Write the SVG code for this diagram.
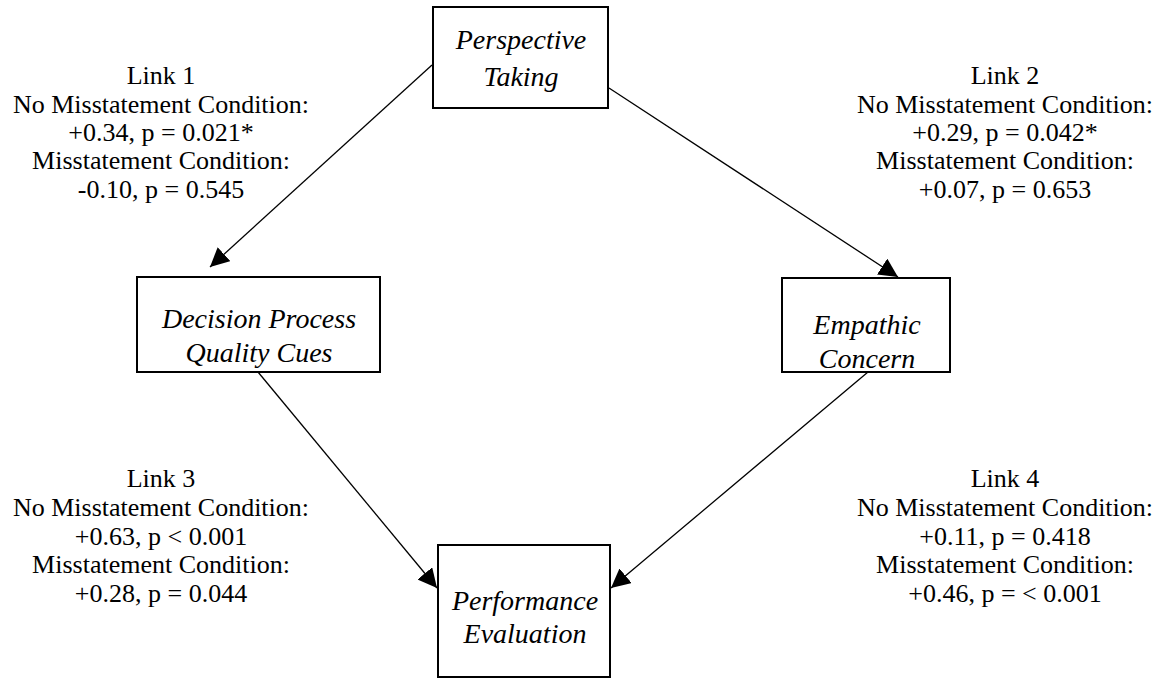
<svg xmlns="http://www.w3.org/2000/svg" width="1167" height="679" viewBox="0 0 1167 679">
<style>
.box{fill:#fff;stroke:#000;stroke-width:2}
.nt{font-family:'Liberation Serif','Times New Roman',serif;font-style:italic;font-size:28px;fill:#000;text-anchor:middle}
.lt{font-family:'Liberation Serif','Times New Roman',serif;font-size:26px;fill:#000;text-anchor:middle}
.ln{stroke:#000;stroke-width:1.3;fill:none;marker-end:url(#ah)}
</style>
<defs>
<marker id="ah" viewBox="0 0 10 10" refX="10" refY="5" markerWidth="19" markerHeight="19" markerUnits="userSpaceOnUse" orient="auto">
<path d="M0,0 L10,5 L0,10 z" fill="#000"/>
</marker>
</defs>
<rect width="1167" height="679" fill="#fff"/>
<g id="connectors">
<line class="ln" x1="432" y1="65" x2="210" y2="267"/>
<line class="ln" x1="609" y1="88" x2="898" y2="277"/>
<line class="ln" x1="258" y1="372" x2="437" y2="588"/>
<line class="ln" x1="868" y1="372" x2="611" y2="588"/>
</g>
<g id="node-perspective">
<rect class="box" x="433" y="7" width="175" height="101"/>
<text class="nt" x="521" y="49">Perspective</text>
<text class="nt" x="521" y="86">Taking</text>
</g>
<g id="node-decision">
<rect class="box" x="137" y="277" width="243" height="95"/>
<text class="nt" x="259" y="328">Decision Process</text>
<text class="nt" x="259" y="362">Quality Cues</text>
</g>
<g id="node-empathic">
<rect class="box" x="782" y="278" width="168" height="94"/>
<text class="nt" x="867" y="334">Empathic</text>
<text class="nt" x="867" y="368">Concern</text>
</g>
<g id="node-performance">
<rect class="box" x="438" y="545" width="172" height="132"/>
<text class="nt" x="525" y="610">Performance</text>
<text class="nt" x="525" y="643">Evaluation</text>
</g>
<g id="label-link1">
<text class="lt" x="161" y="84">Link 1</text>
<text class="lt" x="161" y="113">No Misstatement Condition:</text>
<text class="lt" x="161" y="141">+0.34, p = 0.021*</text>
<text class="lt" x="161" y="169">Misstatement Condition:</text>
<text class="lt" x="161" y="198">-0.10, p = 0.545</text>
</g>
<g id="label-link2">
<text class="lt" x="1005" y="84">Link 2</text>
<text class="lt" x="1005" y="113">No Misstatement Condition:</text>
<text class="lt" x="1005" y="141">+0.29, p = 0.042*</text>
<text class="lt" x="1005" y="169">Misstatement Condition:</text>
<text class="lt" x="1005" y="198">+0.07, p = 0.653</text>
</g>
<g id="label-link3">
<text class="lt" x="161" y="487">Link 3</text>
<text class="lt" x="161" y="516">No Misstatement Condition:</text>
<text class="lt" x="161" y="545">+0.63, p &lt; 0.001</text>
<text class="lt" x="161" y="573">Misstatement Condition:</text>
<text class="lt" x="161" y="602">+0.28, p = 0.044</text>
</g>
<g id="label-link4">
<text class="lt" x="1005" y="487">Link 4</text>
<text class="lt" x="1005" y="516">No Misstatement Condition:</text>
<text class="lt" x="1005" y="545">+0.11, p = 0.418</text>
<text class="lt" x="1005" y="573">Misstatement Condition:</text>
<text class="lt" x="1005" y="602">+0.46, p = &lt; 0.001</text>
</g>
</svg>
